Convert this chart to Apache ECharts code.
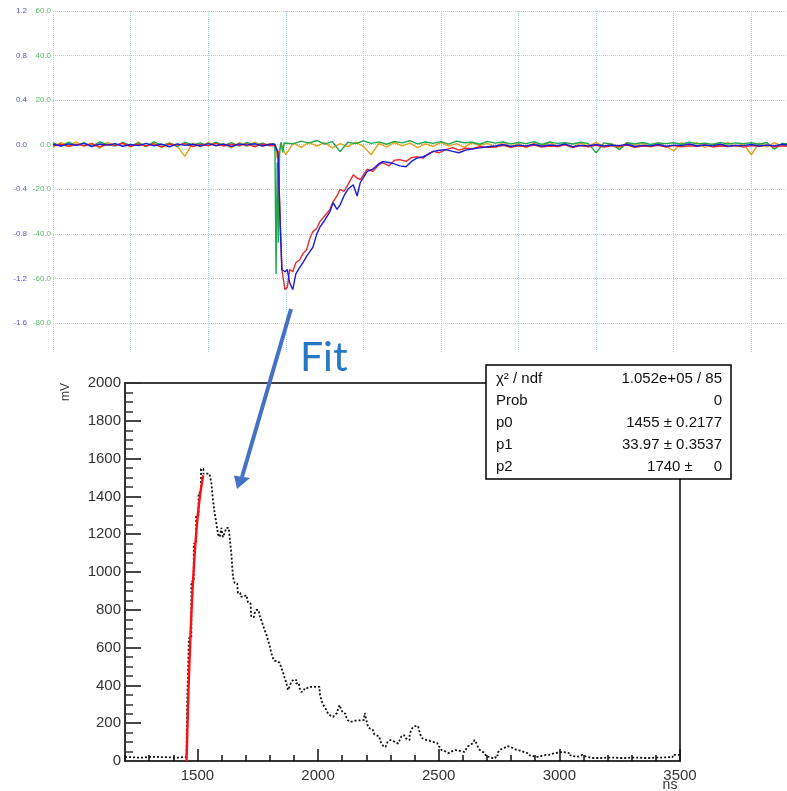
<!DOCTYPE html>
<html><head><meta charset="utf-8">
<script src="https://cdn.jsdelivr.net/npm/echarts@6/dist/echarts.min.js"></script>
<style>html,body{margin:0;padding:0;background:#fff}#c{width:787px;height:791px}</style>
</head><body><div id="c"></div>
<script>
// ---------- top oscilloscope traces (time in divisions, values in mV on the green scale) ----------
const preT = [0,0.1,0.2,0.3,0.4,0.5,0.6,0.7,0.8,0.9,1.0,1.1,1.2,1.3,1.4,1.5,1.6,1.7,1.8,1.9,2.0,2.1,2.2,2.3,2.4,2.5,2.6,2.7,2.8];
const redPre = [-0.5,0.3,-0.8,0.2,-0.4,0.5,-0.9,0.1,-0.3,0.6,-0.7,0.2,-0.5,0.4,-1.0,0.3,-0.2,0.5,-0.8,0.1,-0.4,0.6,-0.6,0.2,-0.3,0.4,-0.9,0.3,-0.5];
const bluePre = [0.2,-0.6,0.4,-0.3,0.6,-0.8,0.3,-0.2,0.5,-0.7,0.1,-0.4,0.6,-0.5,0.3,-0.9,0.4,-0.3,0.2,-0.6,0.5,-0.4,0.3,-0.8,0.4,-0.2,0.5,-0.6,0.2];
const greenPre = [0.8,-0.5,1.1,-0.3,0.9,-0.7,1.2,0.1,-0.6,1.0,-0.4,0.7,-0.8,1.3,-0.2,0.6,-0.9,1.1,-0.1,0.8,-0.5,1.2,-0.3,0.9,-0.6,1.0,-0.2,0.7,-0.4];
const orangePre = [-1.2,0.9,-0.4,1.3,-0.9,0.6,-1.5,1.0,-0.3,0.8,-1.1,1.2,-0.7,0.5,-1.3,0.9,-0.5,-5.2,0.7,-1.0,1.1,-0.6,0.4,-1.4,0.9,-0.8,1.2,-0.5,0.6];

const goMidT = [2.84,2.86,2.875,2.89,2.905,2.92,2.94,2.96,2.98];
const greenMid = [0.6,-0.4,-58,-8,-44,-4,1.2,-3.5,0.8];
const orangeMid = [0.3,-1.1,-3,-6,-5,-2,0.5,-1.5,-3];

const postT = [3.0,3.1,3.2,3.3,3.4,3.5,3.6,3.7,3.8,3.9,4.0,4.1,4.2,4.3,4.4,4.5,4.6,4.7,4.8,4.9,5.0,5.1,5.2,5.3,5.4,5.5,5.6,5.7,5.8,5.9,6.0,6.1,6.2,6.3,6.4,6.5,6.6,6.7,6.8,6.9,7.0,7.1,7.2,7.3,7.4,7.5,7.6,7.7,7.8,7.9,8.0,8.1,8.2,8.3,8.4,8.5,8.6,8.7,8.8,8.9,9.0,9.1,9.2,9.3,9.4,9.5];
const greenPost = [1.2,0.4,1.6,0.7,1.9,0.3,1.4,-3.1,1.1,0.5,
  1.7,0.6,1.3,0.2,1.5,0.8,1.8,0.4,1.2,0.6,
  1.4,0.3,1.6,0.9,1.1,0.2,1.5,0.7,1.3,0.4,
  1.0,0.5,1.4,0.1,1.2,0.6,0.9,0.3,1.1,0.5,
  -3.6,0.8,0.2,-2.2,0.9,0.4,1.0,0.1,0.8,0.5,
  0.9,0.2,1.1,0.4,0.7,0.1,1.0,0.3,0.8,0.5,
  0.9,0.2,1.0,-2.0,0.6,0.3];
const orangePost = [-4.5,0.8,-1.2,1.1,-0.6,0.9,-1.4,0.5,-0.9,1.2,
  -0.7,-4.5,0.6,-1.1,1.0,-0.5,0.7,-1.3,0.4,-0.8,
  1.1,-0.6,0.5,-1.2,0.9,-0.4,0.6,-1.0,1.2,-0.7,
  0.4,-1.3,0.8,-0.5,1.0,-0.9,0.3,-1.1,0.7,-0.6,
  1.1,-0.8,0.5,-1.4,0.9,-0.3,0.6,-1.0,0.8,-0.7,
  -2.8,0.9,-0.5,1.0,-1.2,0.4,-0.6,1.1,-0.9,0.5,
  -4.5,0.7,-1.0,0.9,-0.6,0.4];

const rbPulseT = [2.86,2.9,2.93,2.95,2.99,3.02,3.05,3.09,3.13,3.18,
  3.22,3.27,3.31,3.35,3.4,3.44,3.5,3.57,3.61,3.66,
  3.7,3.75,3.8,3.87,3.92,3.96,4.05,4.12,4.2,4.25,
  4.33,4.4,4.47,4.55,4.62,4.69,4.77,4.84,4.9,4.98,
  5.06,5.15,5.23,5.32,5.41,5.5,5.6];
const redPulse = [-0.3,-3,-35,-56,-65,-64,-56,-57,-53,-51.6,
  -49,-47,-42,-39,-37.5,-34.5,-32,-29,-25.6,-23,
  -20,-21,-18,-13.5,-15,-15.7,-11,-12,-9,-8,
  -9.5,-7,-6.7,-7.5,-5.8,-5.4,-6,-4,-3,-3.6,
  -2.2,-1.3,-2.4,-1.6,-1.8,-0.8,-1.2];
const bluePulse = [0.2,-4,-38,-56,-57,-56,-62,-65,-58,-55,
  -53,-50,-48,-46,-40,-37,-34,-30,-26,-29,
  -27,-23,-20,-18,-23,-17,-12,-11,-8.5,-7.6,
  -8,-8.6,-9.5,-9.9,-7.5,-6,-5.4,-4.2,-3,-2.5,
  -2.2,-3,-3.6,-2.4,-1.8,-1.4,-0.9];

const tailT = [5.7,5.8,5.9,6.0,6.1,6.2,6.3,6.4,6.5,6.6,6.7,6.8,6.9,7.0,7.1,7.2,7.3,7.4,7.5,7.6,7.7,7.8,7.9,8.0,8.1,8.2,8.3,8.4,8.5,8.6,8.7,8.8,8.9,9.0,9.1,9.2,9.3,9.4,9.5];
const redTail = [-1.0,-0.3,-1.2,-0.5,-0.9,-0.2,-1.1,-0.6,-0.8,-0.1,-1.3,-0.4,-0.9,-0.3,-1.0,-0.5,-0.7,-0.2,-1.2,-0.6,-0.8,-0.3,-1.1,-0.4,-0.9,-0.5,-0.7,-0.1,-1.0,-0.6,-0.8,-0.3,-1.1,-0.4,-0.7,-0.2,-0.9,-0.5,-0.8];
const blueTail = [-0.6,0.1,-0.8,-0.2,-0.5,0.2,-0.7,-0.1,-0.4,0.3,-0.9,-0.3,-0.5,0.1,-0.6,-0.2,-0.4,0.2,-0.8,-0.3,-0.5,0.1,-0.7,-0.2,-0.4,0.3,-0.6,-0.1,-0.5,0.2,-0.7,-0.3,-0.4,0.1,-0.6,-0.2,-0.5,0.2,-0.4];

// ---------- bottom fitted histogram ----------
const histNs = [1200,1250,1300,1350,1400,1440,1455,1460,1470,1480,
  1490,1500,1510,1520,1530,1545,1555,1561,1568,1575,
  1582,1589,1596,1602,1609,1616,1623,1630,1637,1644,
  1651,1658,1665,1671,1685,1700,1706,1713,1720,1727,
  1734,1741,1748,1754,1761,1768,1775,1782,1789,1796,
  1803,1810,1816,1823,1830,1837,1844,1851,1858,1865,
  1872,1879,1886,1892,1899,1906,1913,1920,1927,1934,
  1941,1948,1955,1965,1980,1995,2003,2010,2017,2024,
  2031,2038,2045,2052,2059,2066,2073,2079,2086,2093,
  2100,2107,2114,2121,2127,2134,2145,2160,2175,2190,
  2197,2204,2210,2217,2224,2231,2238,2245,2252,2259,
  2266,2273,2280,2287,2293,2300,2307,2314,2321,2328,
  2335,2342,2349,2356,2363,2369,2376,2383,2390,2397,
  2404,2411,2418,2425,2431,2438,2452,2466,2480,2494,
  2501,2508,2515,2522,2529,2535,2549,2563,2577,2590,
  2604,2611,2618,2625,2632,2639,2645,2652,2659,2666,
  2673,2680,2687,2694,2701,2715,2729,2742,2749,2756,
  2763,2770,2777,2784,2798,2811,2825,2839,2853,2867,
  2880,2894,2908,2922,2936,2950,2963,2977,2991,3005,
  3019,3033,3047,3060,3074,3088,3102,3116,3150,3200,
  3250,3300,3350,3400,3450,3489,3500];
const histMv = [20,18,22,20,18,20,20,300,650,950,
  1150,1300,1420,1545,1520,1520,1515,1469,1381,1312,
  1259,1200,1185,1233,1185,1205,1233,1233,1185,1100,
  974,942,940,889,870,878,868,840,836,762,
  762,783,799,799,770,746,720,693,670,640,
  610,570,545,530,530,520,518,495,471,440,
  413,376,395,420,430,429,410,413,385,365,
  370,386,386,392,392,392,392,360,323,300,
  285,270,250,240,233,233,245,254,275,296,
  270,254,250,230,215,206,210,215,215,217,
  254,215,180,170,165,153,140,135,127,110,
  95,80,74,90,105,111,105,95,100,92,
  85,110,130,138,125,115,111,140,165,180,
  185,185,180,150,125,115,111,105,100,95,
  80,70,58,55,48,42,52,58,55,50,
  48,52,65,78,85,95,105,111,95,74,
  60,50,42,32,22,16,16,30,45,58,
  65,70,75,79,75,65,58,55,48,42,
  30,21,22,28,32,32,38,42,45,48,
  45,42,30,21,25,32,25,16,16,18,
  16,18,16,18,20,32,32];
const fitNs = [1455,1460,1465,1470,1475,1480,1485,1490,1495,1500,1505,1510,1515,1520,1524];
const fitMv = [0,230,444,620,774,905,1020,1117,1204,1277,1341,1394,1442,1482,1512];

const histXTicks = [1500,2000,2500,3000,3500];
const statLabels = ['χ² / ndf','Prob','p0','p1','p2'];
const statValues = ['1.052e+05 / 85','0','1455 ± 0.2177','33.97 ± 0.3537','1740 ±     0'];

function zip(ts, vs){ return ts.map((t,i)=>[t, vs[i]]); }
const redData = zip(preT, redPre).concat(zip(rbPulseT, redPulse), zip(tailT, redTail));
const blueData = zip(preT, bluePre).concat(zip(rbPulseT, bluePulse), zip(tailT, blueTail));
const greenData = zip(preT, greenPre).concat(zip(goMidT, greenMid), zip(postT, greenPost));
const orangeData = zip(preT, orangePre).concat(zip(goMidT, orangeMid), zip(postT, orangePost));

const gridCol = '#a9d6e6';
const ff = '"Liberation Sans", Arial, sans-serif';
const TMAX = 9.46; // visible part of the scope window (divisions)
function lab(v){ return Math.abs(v) < 1e-9 ? '0.0' : v.toFixed(1); }
function traceSeries(name, data, color){
  return {name, type:'line', xAxisIndex:1, yAxisIndex:1, data, showSymbol:false, symbol:'none',
    lineStyle:{color, width:1.4}, animation:false, clip:true};
}

const statGraphics = [];
statGraphics.push({type:'rect', shape:{x:486, y:365, width:245, height:114}, style:{fill:'#fff', stroke:'#000', lineWidth:1.5}, z:100});
statLabels.forEach((s,i)=>{
  statGraphics.push({type:'text', x:496, y:379 + i*22, z:101,
    style:{text:s, font:'15px '+ff, fill:'#111', textAlign:'left', textVerticalAlign:'middle'}});
});
statValues.forEach((s,i)=>{
  statGraphics.push({type:'text', x:722, y:379 + i*22, z:101,
    style:{text:s, font:'15px '+ff, fill:'#111', textAlign:'right', textVerticalAlign:'middle'}});
});

const chart = echarts.init(document.getElementById('c'), null, {renderer:'canvas'});
chart.setOption({
  animation:false,
  backgroundColor:'#fff',
  grid:[
    {left:53, top:11, right:0, height:341},
    {left:53, top:11, right:0, height:312},
    {left:125, top:383, width:555, height:378, show:true, borderColor:'#000', borderWidth:1.5, backgroundColor:'transparent'}
  ],
  xAxis:[
    {gridIndex:0, type:'value', min:0, max:TMAX, interval:1, axisLine:{show:false}, axisTick:{show:false}, axisLabel:{show:false},
      splitLine:{show:true, lineStyle:{color:gridCol, type:'dotted', width:1}}},
    {gridIndex:1, type:'value', min:0, max:TMAX, interval:1, show:false},
    {gridIndex:2, type:'value', position:'bottom', min:1200, max:3500, interval:100,
      axisLine:{show:true, onZero:false, lineStyle:{color:'#333', width:2}},
      axisTick:{show:true, inside:true, length:6, lineStyle:{color:'#111', width:1.5}},
      axisLabel:{show:true, interval:0, margin:7, color:'#333', fontSize:15, fontFamily:ff,
        formatter:v => histXTicks.indexOf(v) >= 0 ? String(v) : ''},
      splitLine:{show:false}},
    {gridIndex:2, type:'value', position:'bottom', min:1200, max:3500, interval:100,
      axisLine:{show:false, onZero:false},
      axisTick:{show:true, inside:true, length:12, customValues:histXTicks, lineStyle:{color:'#111', width:1.5}},
      axisLabel:{show:false}, splitLine:{show:false}}
  ],
  yAxis:[
    {gridIndex:0, type:'value', min:0, max:1, show:false},
    {gridIndex:1, type:'value', position:'left', min:-80, max:60, interval:20,
      axisLine:{show:false}, axisTick:{show:false},
      axisLabel:{color:'#5cb86a', fontSize:8, margin:2, fontFamily:ff, formatter:lab},
      splitLine:{show:true, lineStyle:{color:gridCol, type:'dotted', width:1}}},
    {gridIndex:1, type:'value', position:'left', offset:24, min:-1.6, max:1.2, interval:0.4,
      axisLine:{show:false}, axisTick:{show:false},
      axisLabel:{color:'#5a5ad8', fontSize:8, margin:2, fontFamily:ff, formatter:lab},
      splitLine:{show:false}},
    {gridIndex:2, type:'value', min:0, max:2000, interval:200,
      axisLine:{show:true, onZero:false, lineStyle:{color:'#333', width:2}},
      axisTick:{show:true, inside:true, length:16, lineStyle:{color:'#333', width:1.8}},
      minorTick:{show:true, splitNumber:4, length:8, lineStyle:{color:'#333', width:1.5}},
      axisLabel:{color:'#333', fontSize:15, margin:4, fontFamily:ff, formatter:v => String(v)},
      splitLine:{show:false}}
  ],
  series:[
    traceSeries('CH3', orangeData, '#e2a41e'),
    traceSeries('CH4', greenData, '#1fa84a'),
    traceSeries('CH1', redData, '#f0282d'),
    traceSeries('CH2', blueData, '#1c1cd8'),
    {name:'signal', type:'line', xAxisIndex:2, yAxisIndex:3, data:zip(histNs, histMv), step:'middle',
      showSymbol:false, symbol:'none', lineStyle:{color:'#111', width:1.8, type:[2,2]}, z:3},
    {name:'fit', type:'line', xAxisIndex:2, yAxisIndex:3, data:zip(fitNs, fitMv), smooth:true,
      showSymbol:false, symbol:'none', lineStyle:{color:'#ff1010', width:2.4}, z:4}
  ],
  graphic:[
    {type:'line', shape:{x1:291, y1:309, x2:242, y2:477}, style:{stroke:'#4472c4', lineWidth:4}, z:110},
    {type:'polygon', shape:{points:[[234,475.5],[250,478],[237,489]]}, style:{fill:'#4472c4'}, z:110},
    {type:'text', x:300, y:358, z:110, style:{text:'Fit', font:'41px Lato, "Open Sans", sans-serif', fill:'#2478c6', textAlign:'left', textVerticalAlign:'middle'}},
    {type:'text', x:66, y:383, rotation:Math.PI/2, z:110, style:{text:'mV', font:'12px '+ff, fill:'#333', textAlign:'right', textVerticalAlign:'middle'}},
    {type:'text', x:670, y:785, z:110, style:{text:'ns', font:'14px '+ff, fill:'#333', textAlign:'center', textVerticalAlign:'middle'}}
  ].concat(statGraphics)
});
</script></body></html>
